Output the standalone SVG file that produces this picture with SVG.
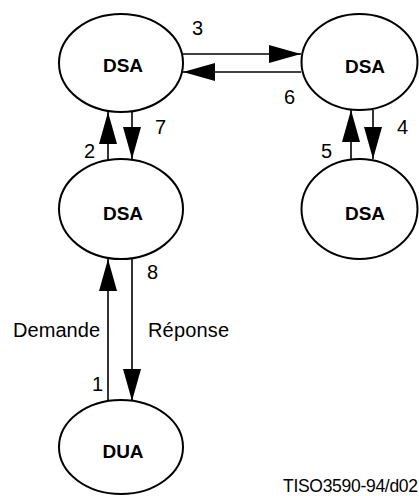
<svg xmlns="http://www.w3.org/2000/svg" width="419" height="496" viewBox="0 0 419 496">
<style>
.node ellipse{fill:#fff;stroke:#000;stroke-width:2}
.node text{font-family:"Liberation Sans",Arial,sans-serif;font-weight:bold;font-size:19px;text-anchor:middle}
.conn line{stroke:#000;stroke-width:1.6;marker-end:url(#ah)}
.lbl{font-family:"Liberation Sans",Arial,sans-serif;font-size:20px;fill:#000}
</style>
<defs>
<marker id="ah" markerUnits="userSpaceOnUse" markerWidth="32" markerHeight="18" refX="32" refY="9" orient="auto">
<path d="M0,0 L32,9 L0,18 z" fill="#000"/>
</marker>
</defs>
<rect width="419" height="496" fill="#fff"/>
<g id="connectors" class="conn">
<line x1="183" y1="54" x2="301" y2="54"/>
<line x1="301" y1="72" x2="183" y2="72"/>
<line x1="108" y1="160" x2="108" y2="112"/>
<line x1="132" y1="112" x2="132" y2="159"/>
<line x1="351" y1="160" x2="351" y2="110"/>
<line x1="373" y1="110" x2="373" y2="159"/>
<line x1="108" y1="401" x2="108" y2="259"/>
<line x1="132" y1="259" x2="132" y2="401"/>
</g>
<g id="dsa_top_left" class="node"><ellipse cx="121" cy="63" rx="62" ry="49"/><text x="123" y="72">DSA</text></g>
<g id="dsa_top_right" class="node"><ellipse cx="359.5" cy="62" rx="58" ry="48"/><text x="365" y="73">DSA</text></g>
<g id="dsa_middle" class="node"><ellipse cx="121" cy="209" rx="62" ry="50"/><text x="123" y="220">DSA</text></g>
<g id="dsa_bottom_right" class="node"><ellipse cx="359.5" cy="209" rx="58" ry="50"/><text x="365" y="220">DSA</text></g>
<g id="dua" class="node"><ellipse cx="121" cy="447" rx="62" ry="47"/><text x="123" y="458">DUA</text></g>
<g id="labels">
<text class="lbl" x="192" y="35">3</text>
<text class="lbl" x="284" y="104">6</text>
<text class="lbl" x="155" y="134">7</text>
<text class="lbl" x="84" y="158">2</text>
<text class="lbl" x="397" y="134">4</text>
<text class="lbl" x="321" y="158">5</text>
<text class="lbl" x="147" y="279">8</text>
<text class="lbl" x="13" y="337" textLength="87">Demande</text>
<text class="lbl" x="148" y="337" textLength="81">Réponse</text>
<text class="lbl" x="92" y="391">1</text>
<text x="283" y="492" font-family="Liberation Sans,Arial,sans-serif" font-size="17.5" textLength="135">TISO3590-94/d02</text>
</g>
</svg>
